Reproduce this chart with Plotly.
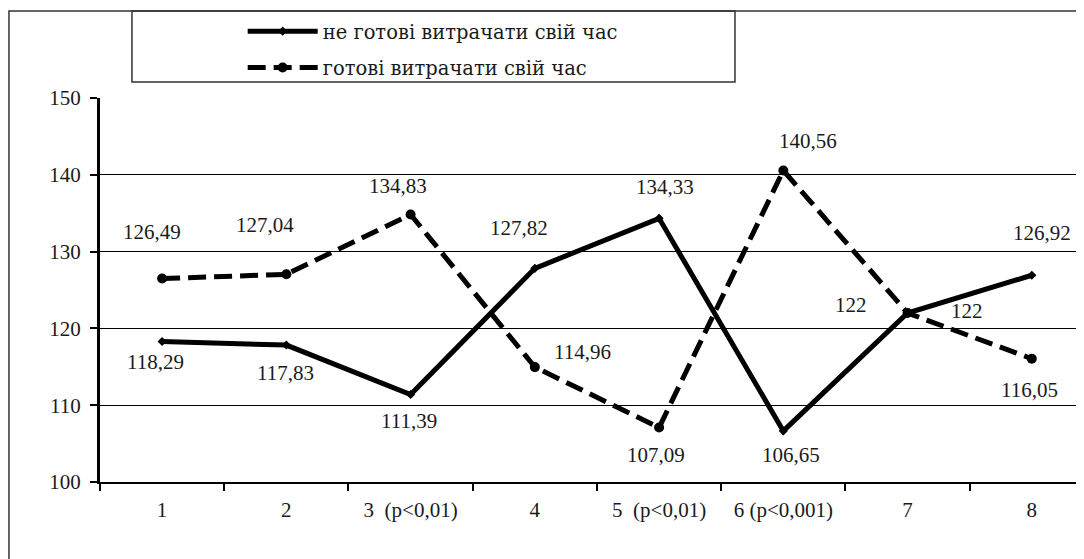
import plotly.graph_objects as go

# ─── Data ─────────────────────────────────────────────────────────────────────

categories = ["1", "2", "3  (p<0,01)", "4", "5  (p<0,01)", "6 (p<0,001)", "7", "8"]
not_ready = [118.29, 117.83, 111.39, 127.82, 134.33, 106.65, 122, 126.92]
ready = [126.49, 127.04, 134.83, 114.96, 107.09, 140.56, 122, 116.05]
name_not_ready = "не готові витрачати свій час"
name_ready = "готові витрачати свій час"

# label offsets in px (style only)
shift_not_ready = [(-7, -20), (-1, -28), (-2, -26), (-16, 40), (6, 31), (8, -24), (-57, 8), (10, 42)]
shift_ready = [(-10, 47), (-21, 49), (-13, 29), (48, 15), (-3, -27), (25, 30), (59, 2), (-2, -31)]

FONT = "Liberation Serif, Times New Roman, serif"
LEGEND_FONT = "'DejaVu Serif', serif"   # Cyrillic needs a serif that covers it
INK = "#1a1a1a"
FS = 21


def fmt(v):
    return f"{v:g}".replace(".", ",")


fig = go.Figure()

fig.add_trace(go.Scatter(
    x=categories, y=not_ready, name=name_not_ready, mode="lines+markers",
    line=dict(color="black", width=5),
    marker=dict(symbol="diamond", size=7, color="black"),
    legendgroup="a",
))
fig.add_trace(go.Scatter(
    x=categories, y=ready, name=name_ready, mode="lines+markers",
    line=dict(color="black", width=5, dash="18px,8px"),
    marker=dict(symbol="circle", size=10, color="black"),
    legendgroup="b",
))

# ── data labels (x as category index)
for series, shifts in ((not_ready, shift_not_ready), (ready, shift_ready)):
    for i, (val, (dx, dy)) in enumerate(zip(series, shifts)):
        fig.add_annotation(x=i, y=val, text=fmt(val), showarrow=False,
                           xshift=dx, yshift=dy, font=dict(size=FS, color=INK))

# ── frame + legend box
fig.add_shape(type="rect", xref="paper", yref="paper",
              x0=-0.0925, x1=1.2, y0=-0.4, y1=1.2266,
              line=dict(color="#333", width=1.5), layer="below")
fig.add_shape(type="rect", xref="paper", yref="paper",
              x0=0.0325, x1=0.6453, y0=1.0417, y1=1.2266,
              line=dict(color="#333", width=1.5))

fig.update_layout(
    width=1076, height=551,
    paper_bgcolor="white", plot_bgcolor="white",
    font=dict(family=FONT, size=FS, color=INK),
    margin=dict(l=92, r=0, t=90, b=77),
    showlegend=True,
    legend=dict(
        x=0.145, y=1.224, xanchor="left", yanchor="top",
        bgcolor="rgba(0,0,0,0)", borderwidth=0,
        itemwidth=70, tracegroupgap=8,
        font=dict(family=LEGEND_FONT, size=19.5, color=INK),
    ),
)

fig.update_xaxes(
    type="category", range=[-0.5, 7.42],
    tickson="boundaries", ticks="outside", ticklen=7, tickwidth=1.5, tickcolor="black",
    showline=True, linecolor="black", linewidth=2,
    showgrid=False, zeroline=False,
    ticklabelstandoff=8,
)
fig.update_yaxes(
    range=[100, 150], dtick=10,
    ticks="outside", ticklen=7, tickwidth=2, tickcolor="black",
    showline=True, linecolor="black", linewidth=3,
    showgrid=True, gridcolor="black", gridwidth=1,
    zeroline=False, ticklabelstandoff=5,
)

fig.write_html("out.html")
